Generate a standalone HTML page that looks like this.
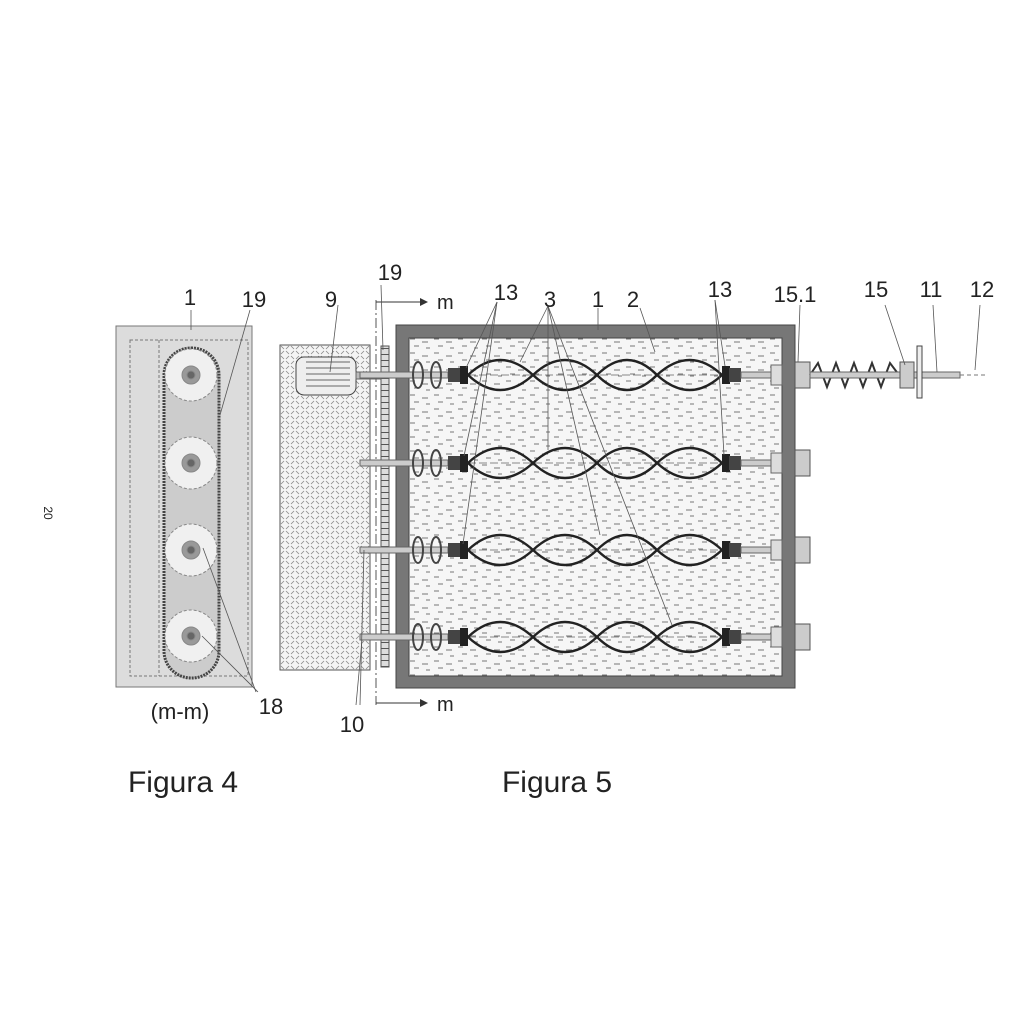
<!DOCTYPE html>
<html><head><meta charset="utf-8"><style>body{margin:0;background:#fff}svg{display:block}text{font-family:"Liberation Sans",sans-serif;fill:#222}</style></head><body>
<svg width="1024" height="1024" viewBox="0 0 1024 1024" xmlns="http://www.w3.org/2000/svg">
<defs>
<pattern id="liq" width="24" height="14" patternUnits="userSpaceOnUse"><rect width="24" height="14" fill="#f6f6f6"/><path d="M2 3h5M14 6h6M6 10h5M18 12h4" stroke="#777" stroke-width="1"/></pattern>
<pattern id="hat" width="10" height="10" patternUnits="userSpaceOnUse"><rect width="10" height="10" fill="#f4f4f4"/><path d="M1 4l3-3M6 9l3-3M1 6l3 3M6 1l3 3" stroke="#888" stroke-width="0.8"/></pattern>
<pattern id="gear" width="8" height="6" patternUnits="userSpaceOnUse"><rect width="8" height="6" fill="#ddd"/><path d="M0 0.5h8" stroke="#555"/></pattern>
</defs>
<text x="44" y="513" font-size="12" transform="rotate(90 44 513)" text-anchor="middle">20</text>
<!-- Fig 4 -->
<rect x="116" y="326" width="136" height="361" fill="#dcdcdc" stroke="#777"/>
<rect x="130" y="340" width="118" height="336" fill="none" stroke="#777" stroke-dasharray="3 2"/>
<line x1="159" y1="340" x2="159" y2="676" stroke="#777" stroke-dasharray="3 2"/>
<rect x="164" y="348" width="55" height="330" rx="27" fill="#ccc" stroke="#444" stroke-width="3" stroke-dasharray="2 1"/>
<g stroke="#888">
<circle cx="191" cy="375" r="26" fill="#f0f0f0" stroke-dasharray="3 2"/><circle cx="191" cy="463" r="26" fill="#f0f0f0" stroke-dasharray="3 2"/><circle cx="191" cy="550" r="26" fill="#f0f0f0" stroke-dasharray="3 2"/><circle cx="191" cy="636" r="26" fill="#f0f0f0" stroke-dasharray="3 2"/>
<circle cx="191" cy="375" r="9" fill="#999"/><circle cx="191" cy="463" r="9" fill="#999"/><circle cx="191" cy="550" r="9" fill="#999"/><circle cx="191" cy="636" r="9" fill="#999"/>
<circle cx="191" cy="375" r="4" fill="#666"/><circle cx="191" cy="463" r="4" fill="#666"/><circle cx="191" cy="550" r="4" fill="#666"/><circle cx="191" cy="636" r="4" fill="#666"/>
</g>
<g stroke="#555" stroke-width="0.8"><line x1="191" y1="310" x2="191" y2="330"/><line x1="250" y1="310" x2="220" y2="415"/><line x1="256" y1="692" x2="203" y2="548"/><line x1="258" y1="692" x2="202" y2="636"/></g>
<text x="190" y="305" font-size="22" text-anchor="middle">1</text>
<text x="254" y="307" font-size="22" text-anchor="middle">19</text>
<text x="180" y="719" font-size="22" text-anchor="middle">(m-m)</text>
<text x="271" y="714" font-size="22" text-anchor="middle">18</text>
<text x="183" y="792" font-size="30" text-anchor="middle">Figura 4</text>
<!-- Fig 5 -->
<rect x="280" y="345" width="90" height="325" fill="url(#hat)" stroke="#555"/>
<rect x="296" y="357" width="60" height="38" rx="8" fill="#eee" stroke="#444"/>
<path d="M306 362h44M306 368h44M306 374h44M306 380h44M306 386h44" stroke="#666"/>
<rect x="356" y="372" width="30" height="7" fill="#bbb" stroke="#666"/>
<rect x="381" y="346" width="8" height="321" fill="url(#gear)" stroke="#555"/>
<path d="M376 300V705" stroke="#555" stroke-dasharray="10 3 2 3"/>
<path d="M376 302H420M376 703H420" stroke="#333"/><path d="M420 298l8 4-8 4zM420 699l8 4-8 4z" fill="#333"/>
<text x="437" y="309" font-size="20">m</text><text x="437" y="711" font-size="20">m</text>
<rect x="396" y="325" width="399" height="363" fill="#777" stroke="#444"/>
<rect x="409" y="338" width="373" height="338" fill="url(#liq)" stroke="#444"/>
<g id="row">
<rect x="360" y="372" width="88" height="6" fill="#ccc" stroke="#666"/>
<ellipse cx="418" cy="375" rx="5" ry="13" fill="none" stroke="#444" stroke-width="2"/>
<ellipse cx="436" cy="375" rx="5" ry="13" fill="none" stroke="#444" stroke-width="2"/>
<rect x="448" y="368" width="14" height="14" fill="#444"/><rect x="460" y="366" width="8" height="18" fill="#222"/>
<line x1="468" y1="375" x2="722" y2="375" stroke="#888" stroke-dasharray="8 3"/>
<path d="M468 375 Q500 345 533 375 Q565 405 597 375 Q627 345 657 375 Q690 405 722 375" fill="none" stroke="#222" stroke-width="2.4"/>
<path d="M468 375 Q500 405 533 375 Q565 345 597 375 Q627 405 657 375 Q690 345 722 375" fill="none" stroke="#222" stroke-width="2.4"/>
<rect x="722" y="366" width="8" height="18" fill="#222"/><rect x="729" y="368" width="12" height="14" fill="#444"/>
<rect x="741" y="372" width="30" height="6" fill="#ccc" stroke="#666"/>
<rect x="771" y="365" width="11" height="20" fill="#ddd" stroke="#666"/>
<rect x="795" y="362" width="15" height="26" fill="#ccc" stroke="#555"/>
</g>
<use href="#row" y="88"/><use href="#row" y="175"/><use href="#row" y="262"/>
<path d="M810 375 l8 -12 l9 24 l9 -24 l9 24 l9 -24 l9 24 l9 -24 l9 24 l9 -24 l9 12" fill="none" stroke="#333" stroke-width="2"/>
<rect x="810" y="372" width="150" height="6" fill="#ccc" stroke="#666"/>
<rect x="900" y="362" width="14" height="26" fill="#ccc" stroke="#555"/>
<rect x="917" y="346" width="5" height="52" fill="#eee" stroke="#444"/>
<path d="M960 375H985" stroke="#777" stroke-dasharray="4 3"/>
<g stroke="#555" stroke-width="0.8">
<line x1="381" y1="285" x2="383" y2="350"/><line x1="338" y1="305" x2="330" y2="372"/>
<line x1="360" y1="705" x2="364" y2="550"/><line x1="356" y1="705" x2="362" y2="640"/>
<line x1="497" y1="302" x2="466" y2="368"/><line x1="497" y1="302" x2="464" y2="456"/><line x1="497" y1="302" x2="463" y2="544"/>
<line x1="548" y1="306" x2="520" y2="362"/><line x1="548" y1="306" x2="548" y2="450"/><line x1="548" y1="306" x2="600" y2="535"/><line x1="548" y1="306" x2="672" y2="625"/>
<line x1="598" y1="308" x2="598" y2="330"/><line x1="640" y1="308" x2="655" y2="352"/>
<line x1="715" y1="300" x2="725" y2="366"/><line x1="715" y1="300" x2="724" y2="455"/>
<line x1="800" y1="305" x2="798" y2="362"/><line x1="885" y1="305" x2="905" y2="365"/>
<line x1="933" y1="305" x2="937" y2="372"/><line x1="980" y1="305" x2="975" y2="370"/>
</g>
<text x="331" y="307" font-size="22" text-anchor="middle">9</text>
<text x="390" y="280" font-size="22" text-anchor="middle">19</text>
<text x="352" y="732" font-size="22" text-anchor="middle">10</text>
<text x="506" y="300" font-size="22" text-anchor="middle">13</text>
<text x="550" y="307" font-size="22" text-anchor="middle">3</text>
<text x="598" y="307" font-size="22" text-anchor="middle">1</text>
<text x="633" y="307" font-size="22" text-anchor="middle">2</text>
<text x="720" y="297" font-size="22" text-anchor="middle">13</text>
<text x="795" y="302" font-size="22" text-anchor="middle">15.1</text>
<text x="876" y="297" font-size="22" text-anchor="middle">15</text>
<text x="931" y="297" font-size="22" text-anchor="middle">11</text>
<text x="982" y="297" font-size="22" text-anchor="middle">12</text>
<text x="557" y="792" font-size="30" text-anchor="middle">Figura 5</text>
</svg>
</body></html>
